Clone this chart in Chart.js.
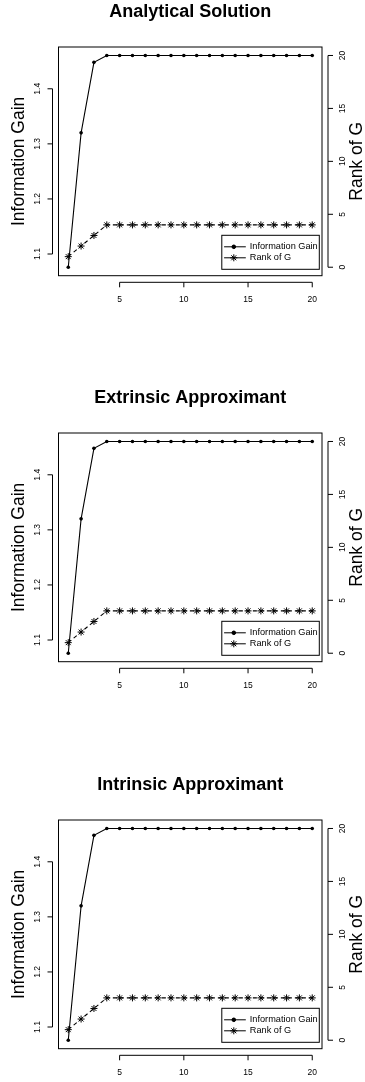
<!DOCTYPE html>
<html>
<head>
<meta charset="utf-8">
<script src="https://cdn.jsdelivr.net/npm/chart.js@4.4.1/dist/chart.umd.min.js"></script>
<style>
  html, body { margin: 0; padding: 0; background: #fff; }
  body { width: 365px; height: 1082px; position: relative; overflow: hidden; }
  canvas { position: absolute; left: 0; }
</style>
</head>
<body>
<canvas id="c1" width="365" height="310" style="top:0px"></canvas>
<canvas id="c2" width="365" height="310" style="top:386px"></canvas>
<canvas id="c3" width="365" height="310" style="top:773px"></canvas>
<script>
// the three panels show the same curves
var titles = ['Analytical Solution', 'Extrinsic Approximant', 'Intrinsic Approximant'];
var steps = [1, 2, 3, 4, 5, 6, 7, 8, 9, 10, 11, 12, 13, 14, 15, 16, 17, 18, 19, 20];
var infoGain = [1.076, 1.320, 1.448, 1.4605, 1.4605, 1.4605, 1.4605, 1.4605, 1.4605, 1.4605,
                1.4605, 1.4605, 1.4605, 1.4605, 1.4605, 1.4605, 1.4605, 1.4605, 1.4605, 1.4605];
var rankG = [1, 2, 3, 4, 4, 4, 4, 4, 4, 4, 4, 4, 4, 4, 4, 4, 4, 4, 4, 4];
var rankLimits = [0, 20];
var xTicks = [5, 10, 15, 20];
var gainTicks = [1.1, 1.2, 1.3, 1.4];
var rankTicks = [0, 5, 10, 15, 20];

var FONT = '"Liberation Sans", Arial, Helvetica, sans-serif';

// R pads the data range by 4% on each side
function rRange(lo, hi) {
    var d = (hi - lo) * 0.04;
    return [lo - d, hi + d];
}
function minOf(a) { return Math.min.apply(null, a); }
function maxOf(a) { return Math.max.apply(null, a); }

var xRange = rRange(minOf(steps), maxOf(steps));
var gainRange = rRange(minOf(infoGain), maxOf(infoGain));
var rankRange = rRange(rankLimits[0], rankLimits[1]);

function fixTicks(list) {
    return function(scale) {
        scale.ticks = list.map(function(v) { return { value: v }; });
    };
}

function vText(ctx, text, x, y) {
    ctx.save();
    ctx.translate(x, y);
    ctx.rotate(-Math.PI / 2);
    ctx.fillText(text, 0, 0);
    ctx.restore();
}

// box, offset axes, axis titles and legend, base graphics style
var rStyle = {
    id: 'rStyle',
    afterDraw: function(chart) {
        var ctx = chart.ctx, a = chart.chartArea;
        var sx = chart.scales.x, sy = chart.scales.y, sr = chart.scales.y1;
        ctx.save();
        ctx.strokeStyle = '#000';
        ctx.fillStyle = '#000';
        ctx.lineWidth = 1;
        ctx.strokeRect(a.left, a.top, a.right - a.left, a.bottom - a.top);

        ctx.font = '8.5px ' + FONT;
        ctx.textAlign = 'center';
        ctx.textBaseline = 'middle';

        // bottom axis
        var ay = a.bottom + 6.6;
        var t = sx.ticks;
        ctx.beginPath();
        ctx.moveTo(sx.getPixelForValue(t[0].value), ay);
        ctx.lineTo(sx.getPixelForValue(t[t.length - 1].value), ay);
        t.forEach(function(tk) {
            var px = sx.getPixelForValue(tk.value);
            ctx.moveTo(px, ay);
            ctx.lineTo(px, ay + 5);
        });
        ctx.stroke();
        t.forEach(function(tk) {
            ctx.fillText(String(tk.value), sx.getPixelForValue(tk.value), ay + 17);
        });

        // left axis
        var lx = a.left - 6;
        t = sy.ticks;
        ctx.beginPath();
        ctx.moveTo(lx, sy.getPixelForValue(t[0].value));
        ctx.lineTo(lx, sy.getPixelForValue(t[t.length - 1].value));
        t.forEach(function(tk) {
            var py = sy.getPixelForValue(tk.value);
            ctx.moveTo(lx, py);
            ctx.lineTo(lx - 5, py);
        });
        ctx.stroke();
        t.forEach(function(tk) {
            vText(ctx, tk.value.toFixed(1), lx - 14.5, sy.getPixelForValue(tk.value));
        });

        // right axis
        var rx = a.right + 6;
        t = sr.ticks;
        ctx.beginPath();
        ctx.moveTo(rx, sr.getPixelForValue(t[0].value));
        ctx.lineTo(rx, sr.getPixelForValue(t[t.length - 1].value));
        t.forEach(function(tk) {
            var py = sr.getPixelForValue(tk.value);
            ctx.moveTo(rx, py);
            ctx.lineTo(rx + 5, py);
        });
        ctx.stroke();
        t.forEach(function(tk) {
            vText(ctx, String(tk.value), rx + 15, sr.getPixelForValue(tk.value));
        });

        // axis titles
        var cy = (a.top + a.bottom) / 2;
        ctx.font = '17.5px ' + FONT;
        vText(ctx, 'Information Gain', 19, cy);
        vText(ctx, 'Rank of G', 357, cy);

        // legend
        var bx1 = a.right - 2.7, by1 = a.bottom - 6.4;
        var bx0 = bx1 - 97.5, by0 = by1 - 34;
        ctx.strokeRect(bx0, by0, bx1 - bx0, by1 - by0);
        ctx.font = '9.2px ' + FONT;
        ctx.textAlign = 'left';
        chart.data.datasets.forEach(function(ds, i) {
            var ly = by0 + 11.5 + i * 11;
            ctx.beginPath();
            ctx.moveTo(bx0 + 2.3, ly);
            ctx.lineTo(bx0 + 24, ly);
            ctx.stroke();
            Chart.helpers.drawPoint(ctx, {
                pointStyle: ds.pointStyle,
                radius: ds.pointRadius,
                borderWidth: 1,
                rotation: 0
            }, bx0 + 12, ly);
            ctx.fill();
            ctx.fillText(ds.label, bx0 + 28, ly);
        });
        ctx.restore();
    }
};

function makePanel(id, title) {
    return new Chart(document.getElementById(id), {
        type: 'line',
        data: {
            datasets: [{
                label: 'Information Gain',
                data: steps.map(function(s, i) { return { x: s, y: infoGain[i] }; }),
                yAxisID: 'y',
                borderColor: '#000',
                backgroundColor: '#000',
                borderWidth: 1.1,
                pointStyle: 'circle',
                pointRadius: 1.8,
                pointBackgroundColor: '#000',
                pointBorderWidth: 0,
                tension: 0
            }, {
                label: 'Rank of G',
                data: steps.map(function(s, i) { return { x: s, y: rankG[i] }; }),
                yAxisID: 'y1',
                borderColor: '#000',
                backgroundColor: '#000',
                borderWidth: 1.1,
                borderDash: [4, 3],
                pointStyle: 'star',
                pointRadius: 3.5,
                pointBorderWidth: 1,
                tension: 0
            }]
        },
        options: {
            responsive: false,
            animation: false,
            events: [],
            layout: {
                padding: { left: 58.5, right: 43, top: 0, bottom: 34.3 }
            },
            scales: {
                x: {
                    type: 'linear', display: false,
                    min: xRange[0], max: xRange[1],
                    afterBuildTicks: fixTicks(xTicks)
                },
                y: {
                    type: 'linear', display: false, position: 'left',
                    min: gainRange[0], max: gainRange[1],
                    afterBuildTicks: fixTicks(gainTicks)
                },
                y1: {
                    type: 'linear', display: false, position: 'right',
                    min: rankRange[0], max: rankRange[1],
                    afterBuildTicks: fixTicks(rankTicks)
                }
            },
            plugins: {
                legend: { display: false },
                tooltip: { enabled: false },
                title: {
                    display: true,
                    text: title,
                    color: '#000',
                    font: { family: FONT, size: 18, weight: 'bold' },
                    padding: { top: 1.4, bottom: 24 }
                }
            }
        },
        plugins: [rStyle]
    });
}

titles.forEach(function(t, i) {
    makePanel('c' + (i + 1), t);
});
</script>
</body>
</html>
